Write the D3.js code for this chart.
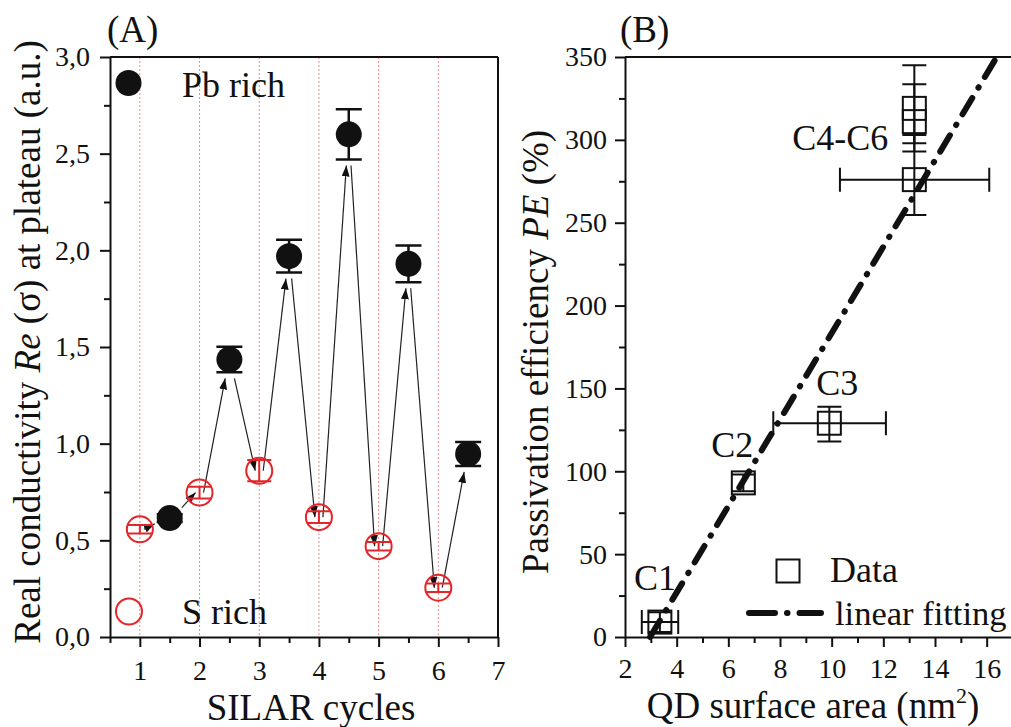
<!DOCTYPE html>
<html><head><meta charset="utf-8">
<script src="https://cdn.jsdelivr.net/npm/d3@7"></script>
<style>
body{margin:0;background:#fff}
svg{display:block}
text{font-family:"Liberation Serif","Times New Roman",serif;fill:#111}
</style>
</head><body>
<svg id="c" width="1011" height="727"></svg>
<script>
// ---------- Panel A data ----------
const pbX   = [1.5, 2.5, 3.5, 4.5, 5.5, 6.5];
const pbY   = [0.615, 1.435, 1.97, 2.60, 1.93, 0.947];
const pbErr = [0.02, 0.066, 0.085, 0.13, 0.095, 0.062];
const sX    = [1, 2, 3, 4, 5, 6];
const sY    = [0.557, 0.747, 0.86, 0.62, 0.47, 0.255];
const sErr  = [0.022, 0.03, 0.055, 0.03, 0.022, 0.022];
const aXTicks = [1, 2, 3, 4, 5, 6, 7];
const aXMinor = [0.5, 1.5, 2.5, 3.5, 4.5, 5.5, 6.5];
const aYTicks = [0, 0.5, 1.0, 1.5, 2.0, 2.5, 3.0];
const aYMinor = [0.25, 0.75, 1.25, 1.75, 2.25, 2.75];
const guideX  = [1, 2, 3, 4, 5, 6];

// ---------- Panel B data ----------
const bX    = [3.35, 6.58, 9.91, 13.2, 13.2, 13.2];
const bY    = [9, 93, 129, 319, 311, 276];
const bYLo  = [3, 88, 118, 293, 298, 254.7];
const bYHi  = [15, 98, 139, 345, 333.5, 303];
const bXLo  = [2.65, 6.58, 7.74, 13.2, 13.2, 10.32];
const bXHi  = [4.06, 6.58, 12.1, 13.2, 13.2, 16.1];
const bAnnotText = ["C1", "C2", "C3", "C4-C6"];
const bAnnotIdx  = [0, 1, 2, 5];
const fitX = [2.97, 16.39];
const fitY = [0, 350];
const bXTicks = [2, 4, 6, 8, 10, 12, 14, 16];
const bXMinor = [3, 5, 7, 9, 11, 13, 15, 17];
const bYTicks = [0, 50, 100, 150, 200, 250, 300, 350];
const bYMinor = [25, 75, 125, 175, 225, 275, 325];

const svg = d3.select("#c");
const RED = "#e3262a";

// ---------- scales ----------
const xA = d3.scaleLinear([0.5, 7], [110, 498]);
const yA = d3.scaleLinear([0, 3], [637, 57]);
const xB = d3.scaleLinear([2, 17], [625, 1012.5]);
const yB = d3.scaleLinear([0, 350], [637, 57]);

const defs = svg.append("defs");
defs.append("marker").attr("id", "ah").attr("markerUnits", "userSpaceOnUse")
  .attr("markerWidth", 12).attr("markerHeight", 8).attr("refX", 11).attr("refY", 4)
  .attr("orient", "auto")
  .append("path").attr("d", "M0,0 L11,4 L0,8 Z").attr("fill", "#111");

function styleAxis(g, fs) {
  g.attr("font-family", null).attr("font-size", null);
  g.select(".domain").attr("stroke", "#111").attr("stroke-width", 2);
  g.selectAll(".tick line").attr("stroke", "#111").attr("stroke-width", 2);
  g.selectAll("text").style("font-size", fs + "px").attr("fill", "#111");
}

function axes(xs, ys, xt, xm, yt, ym, yfmt, xpad, ypad) {
  const [x0, x1] = xs.range(), [y0, y1] = ys.range();
  svg.append("line").attr("x1", x0).attr("x2", x1).attr("y1", y1).attr("y2", y1)
    .attr("stroke", "#111").attr("stroke-width", 2);
  svg.append("line").attr("x1", x1).attr("x2", x1).attr("y1", y1).attr("y2", y0)
    .attr("stroke", "#111").attr("stroke-width", 2);
  const gx = svg.append("g").attr("transform", `translate(0,${y0})`)
    .call(d3.axisBottom(xs).tickValues(xt).tickSize(10).tickSizeOuter(0).tickPadding(xpad).tickFormat(d3.format("d")));
  styleAxis(gx, 28);
  const gxm = svg.append("g").attr("transform", `translate(0,${y0})`)
    .call(d3.axisBottom(xs).tickValues(xm.filter(v => v >= xs.domain()[0] && v <= xs.domain()[1])).tickSize(6).tickSizeOuter(0).tickFormat(""));
  styleAxis(gxm, 28); gxm.select(".domain").remove();
  const gy = svg.append("g").attr("transform", `translate(${x0},0)`)
    .call(d3.axisLeft(ys).tickValues(yt).tickSize(10).tickSizeOuter(0).tickPadding(ypad).tickFormat(yfmt));
  styleAxis(gy, 28);
  const gym = svg.append("g").attr("transform", `translate(${x0},0)`)
    .call(d3.axisLeft(ys).tickValues(ym).tickSize(6).tickSizeOuter(0).tickFormat(""));
  styleAxis(gym, 28); gym.select(".domain").remove();
}

// ================= Panel A =================
const gA = svg.append("g");
gA.selectAll("line.guide").data(guideX).join("line")
  .attr("x1", d => xA(d)).attr("x2", d => xA(d))
  .attr("y1", yA(3)).attr("y2", yA(0))
  .attr("stroke", "#f08a8a").attr("stroke-width", 1).attr("stroke-dasharray", "2,2");

axes(xA, yA, aXTicks, aXMinor, aYTicks, aYMinor, d => d3.format(".1f")(d).replace(".", ","), 13, 10);

// arrows
const R = 13;
const seq = [];
for (let i = 0; i < 6; i++) { seq.push({t: "s", i}); seq.push({t: "p", i}); }
function center(n) { return n.t === "s" ? [xA(sX[n.i]), yA(sY[n.i])] : [xA(pbX[n.i]), yA(pbY[n.i])]; }
function endpoint(n, other, outgoing) {
  const [cx, cy] = center(n), [ox, oy] = center(other);
  if (n.t === "s") return [cx + (outgoing ? 4 : -4), cy];
  const L = Math.hypot(ox - cx, oy - cy);
  const capY = yA(pbY[n.i] - pbErr[n.i]) + 6;
  const t1 = (R + 3) / L;
  const t2 = oy > cy ? (capY - cy) / (oy - cy) : 0;
  const t = Math.max(t1, Math.min(t2, 0.5));
  return [cx + t * (ox - cx), cy + t * (oy - cy)];
}
const arrows = [];
for (let k = 0; k < seq.length - 1; k++) {
  const a = seq[k], b = seq[k + 1];
  arrows.push([endpoint(a, b, true), endpoint(b, a, false)]);
}
gA.selectAll("line.arrow").data(arrows).join("line")
  .attr("x1", d => d[0][0]).attr("y1", d => d[0][1])
  .attr("x2", d => d[1][0]).attr("y2", d => d[1][1])
  .attr("stroke", "#222").attr("stroke-width", 1.2).attr("marker-end", "url(#ah)");

// S rich error bars and circles
const sIdx = d3.range(sX.length);
gA.selectAll("path.serr").data(sIdx).join("path")
  .attr("d", i => {
    const x = xA(sX[i]), lo = yA(sY[i] - sErr[i]), hi = yA(sY[i] + sErr[i]), w = 12;
    return `M${x},${lo}V${hi}M${x - w},${lo}H${x + w}M${x - w},${hi}H${x + w}`;
  })
  .attr("stroke", RED).attr("stroke-width", 2).attr("fill", "none");
gA.selectAll("circle.s").data(sIdx).join("circle")
  .attr("cx", i => xA(sX[i])).attr("cy", i => yA(sY[i])).attr("r", R)
  .attr("fill", "none").attr("stroke", RED).attr("stroke-width", 2);

// Pb rich error bars and circles
const pIdx = d3.range(pbX.length);
gA.selectAll("path.perr").data(pIdx).join("path")
  .attr("d", i => {
    const x = xA(pbX[i]), lo = yA(pbY[i] - pbErr[i]), hi = yA(pbY[i] + pbErr[i]), w = 13;
    return `M${x},${lo}V${hi}M${x - w},${lo}H${x + w}M${x - w},${hi}H${x + w}`;
  })
  .attr("stroke", "#111").attr("stroke-width", 2.5).attr("fill", "none");
gA.selectAll("circle.p").data(pIdx).join("circle")
  .attr("cx", i => xA(pbX[i])).attr("cy", i => yA(pbY[i])).attr("r", R)
  .attr("fill", "#111");

// legend A
svg.append("circle").attr("cx", 128.5).attr("cy", 83).attr("r", R).attr("fill", "#111");
svg.append("text").attr("x", 182).attr("y", 96.5).style("font-size", "36px").text("Pb rich");
svg.append("circle").attr("cx", 129).attr("cy", 611.5).attr("r", R)
  .attr("fill", "none").attr("stroke", RED).attr("stroke-width", 2);
svg.append("text").attr("x", 182).attr("y", 623.5).style("font-size", "36px").text("S rich");

// titles A
svg.append("text").attr("x", 107).attr("y", 42).style("font-size", "37px").text("(A)");
svg.append("text").attr("x", 311).attr("y", 720).attr("text-anchor", "middle")
  .style("font-size", "37px").text("SILAR cycles");
const tA = svg.append("text").attr("transform", "translate(40,342) rotate(-90)")
  .attr("text-anchor", "middle").style("font-size", "37px");
tA.append("tspan").text("Real conductivity ");
tA.append("tspan").style("font-style", "italic").text("Re");
tA.append("tspan").text(" (σ) at plateau (a.u.)");

// ================= Panel B =================
axes(xB, yB, bXTicks, bXMinor, bYTicks, bYMinor, d3.format("d"), 11, 8);

const gB = svg.append("g");
gB.append("path")
  .attr("d", d3.line().x(d => xB(d[0])).y(d => yB(d[1]))(fitX.map((x, i) => [x, fitY[i]])))
  .attr("stroke", "#111").attr("stroke-width", 6).attr("fill", "none")
  .attr("stroke-linecap", "round").attr("stroke-dasharray", "19,12,0.5,12");

const bIdx = d3.range(bX.length);
gB.selectAll("path.berr").data(bIdx).join("path")
  .attr("d", i => {
    const x = xB(bX[i]), y = yB(bY[i]), w = 12;
    let p = "";
    const lo = yB(bYLo[i]), hi = yB(bYHi[i]);
    p += `M${x},${lo}V${hi}M${x - w},${lo}H${x + w}M${x - w},${hi}H${x + w}`;
    if (bXHi[i] > bXLo[i]) {
      const l = xB(bXLo[i]), r = xB(bXHi[i]);
      p += `M${l},${y}H${r}M${l},${y - w}V${y + w}M${r},${y - w}V${y + w}`;
    }
    return p;
  })
  .attr("stroke", "#111").attr("stroke-width", 2).attr("fill", "none");
const S = 23;
gB.selectAll("rect.b").data(bIdx).join("rect")
  .attr("x", i => xB(bX[i]) - S / 2).attr("y", i => yB(bY[i]) - S / 2)
  .attr("width", S).attr("height", S)
  .attr("fill", "none").attr("stroke", "#111").attr("stroke-width", 2);

// annotations
const annDx = [-26, -32, -13, -26];
const annDy = [-32, -26, -28, -30];
const annAnchor = ["start", "start", "start", "end"];
gB.selectAll("text.ann").data(d3.range(bAnnotText.length)).join("text")
  .attr("x", k => xB(bX[bAnnotIdx[k]]) + annDx[k])
  .attr("y", k => yB(bY[bAnnotIdx[k]]) + annDy[k])
  .attr("text-anchor", k => annAnchor[k])
  .style("font-size", "36px").text(k => bAnnotText[k]);

// legend B
svg.append("rect").attr("x", 788 - S / 2).attr("y", 571 - S / 2).attr("width", S).attr("height", S)
  .attr("fill", "none").attr("stroke", "#111").attr("stroke-width", 2);
svg.append("text").attr("x", 830).attr("y", 582).style("font-size", "36px").text("Data");
svg.append("line").attr("x1", 749).attr("x2", 821).attr("y1", 613).attr("y2", 613)
  .attr("stroke", "#111").attr("stroke-width", 6).attr("stroke-linecap", "round")
  .attr("stroke-dasharray", "26,12,0.5,12");
svg.append("text").attr("x", 835).attr("y", 625).style("font-size", "34.5px").text("linear fitting");

// titles B
svg.append("text").attr("x", 620).attr("y", 42).style("font-size", "37px").text("(B)");
const tBx = svg.append("text").attr("x", 813).attr("y", 718).attr("text-anchor", "middle")
  .style("font-size", "37px");
tBx.append("tspan").text("QD surface area (nm");
tBx.append("tspan").attr("dy", -15).style("font-size", "22px").text("2");
tBx.append("tspan").attr("dy", 15).text(")");
const tBy = svg.append("text").attr("transform", "translate(548,352) rotate(-90)")
  .attr("text-anchor", "middle").style("font-size", "37px");
tBy.append("tspan").text("Passivation efficiency ");
tBy.append("tspan").style("font-style", "italic").text("PE");
tBy.append("tspan").text(" (%)");
</script>
</body></html>
